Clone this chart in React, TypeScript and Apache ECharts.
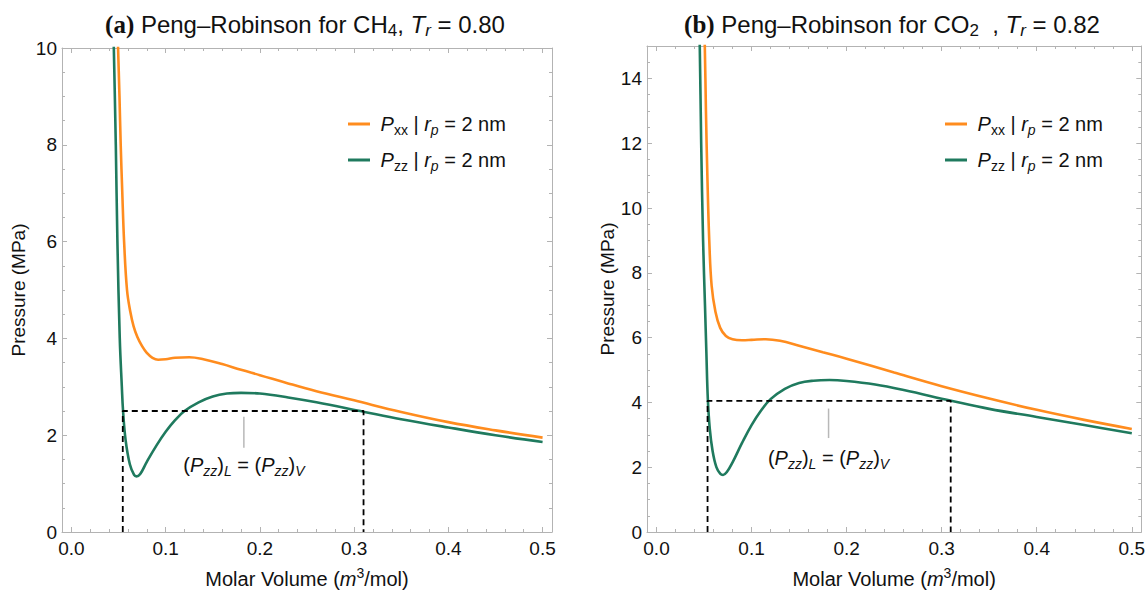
import React, { useEffect, useRef } from 'react';
import * as echarts from 'echarts';

// Axis ticks (molar volume, m^3/mol)
const X_MAJOR = [0, 0.1, 0.2, 0.3, 0.4, 0.5];
const X_MINOR = [0.02, 0.04, 0.06, 0.08, 0.12, 0.14, 0.16, 0.18, 0.22, 0.24, 0.26, 0.28, 0.32, 0.34, 0.36, 0.38, 0.42, 0.44, 0.46, 0.48];

// Panel (a): CH4, Tr = 0.80  — [molar volume, pressure MPa]
const ch4Pxx: [number, number][] = [
  [0.0488, 10.5], [0.0495, 10], [0.051, 9], [0.0523, 8], [0.054, 7], [0.0559, 6], [0.059, 5],
  [0.0625, 4.55], [0.066, 4.25], [0.07, 4.03], [0.075, 3.84], [0.08, 3.7], [0.086, 3.6], [0.092, 3.56],
  [0.1, 3.57], [0.11, 3.6], [0.125, 3.61], [0.14, 3.57], [0.16, 3.47], [0.18, 3.35], [0.2, 3.24],
  [0.23, 3.07], [0.26, 2.91], [0.3, 2.72], [0.35, 2.48], [0.4, 2.27], [0.45, 2.1], [0.5, 1.95],
];
const ch4Pzz: [number, number][] = [
  [0.0445, 10.5], [0.045, 10], [0.0471, 8], [0.0488, 6], [0.0513, 4], [0.0535, 3.0], [0.0548, 2.5],
  [0.0575, 1.9], [0.062, 1.4], [0.0665, 1.18], [0.069, 1.15], [0.073, 1.2], [0.08, 1.45], [0.09, 1.78],
  [0.1, 2.07], [0.11, 2.31], [0.12, 2.5], [0.135, 2.68], [0.15, 2.8], [0.165, 2.86], [0.18, 2.875],
  [0.2, 2.86], [0.23, 2.78], [0.26, 2.68], [0.311, 2.48], [0.35, 2.33], [0.4, 2.16], [0.45, 2.0], [0.5, 1.86],
];
const ch4Equal = 2.5;
const ch4Liquid = 0.0545;
const ch4Vapour = 0.31;
const ch4Pointer: [number, number][] = [[0.183, 2.38], [0.183, 1.74]];
const ch4LabelAt: [number, number] = [0.183, 1.39];

// Panel (b): CO2, Tr = 0.82
const co2Pxx: [number, number][] = [
  [0.05, 15.5], [0.0508, 15], [0.052, 13], [0.0535, 11], [0.0555, 9], [0.058, 7.6], [0.062, 6.8],
  [0.067, 6.3], [0.073, 6.05], [0.08, 5.95], [0.09, 5.92], [0.1, 5.93], [0.115, 5.95], [0.13, 5.9],
  [0.15, 5.75], [0.175, 5.55], [0.2, 5.35], [0.25, 4.92], [0.3, 4.5], [0.35, 4.12], [0.4, 3.77],
  [0.45, 3.46], [0.5, 3.18],
];
const co2Pzz: [number, number][] = [
  [0.0448, 15.5], [0.0455, 15], [0.047, 12], [0.049, 9], [0.051, 7], [0.0525, 5.5], [0.054, 4.1],
  [0.056, 3.2], [0.059, 2.5], [0.063, 2.0], [0.067, 1.8], [0.07, 1.76], [0.074, 1.85], [0.08, 2.15],
  [0.09, 2.75], [0.1, 3.3], [0.11, 3.75], [0.12, 4.1], [0.135, 4.42], [0.15, 4.6], [0.165, 4.67],
  [0.182, 4.69], [0.2, 4.66], [0.23, 4.55], [0.26, 4.38], [0.31, 4.05], [0.35, 3.8], [0.4, 3.55],
  [0.45, 3.3], [0.5, 3.05],
];
const co2Equal = 4.05;
const co2Liquid = 0.0537;
const co2Vapour = 0.3095;
const co2Pointer: [number, number][] = [[0.181, 3.81], [0.181, 2.9]];
const co2LabelAt: [number, number] = [0.181, 2.28];

const FONT = '"Liberation Sans", Arial, Helvetica, sans-serif';
const SERIF = '"Liberation Serif", "Times New Roman", serif';
const INK = '#111111';
const FRAME = '#b3b3b3';
const ORANGE = '#ff8c1e';
const GREEN = '#1f7a5e';

function rich(size: number) {
  const sub = Math.round(size * 0.72);
  const base = { fontFamily: FONT, color: INK, fill: INK, textBorderWidth: 0 };
  return {
    i: { ...base, fontSize: size, fontStyle: 'italic', lineHeight: size + 6 },
    sub: { ...base, fontSize: sub, verticalAlign: 'bottom', lineHeight: sub },
    isub: { ...base, fontSize: sub, fontStyle: 'italic', verticalAlign: 'bottom', lineHeight: sub },
    sup: { ...base, fontSize: sub, verticalAlign: 'top', lineHeight: Math.round(size * 0.11 + 6) },
    b: { ...base, fontFamily: SERIF, fontWeight: 'bold', fontSize: size + 1, lineHeight: size + 6 },
  };
}

function xAxes(g: number) {
  const base = {
    type: 'value', gridIndex: g, min: -0.01, max: 0.51,
    splitLine: { show: false }, minorSplitLine: { show: false },
  };
  const line = { show: true, onZero: false, lineStyle: { color: FRAME, width: 1 } };
  const noLine = { show: false, onZero: false };
  return [
    {
      ...base, position: 'bottom', axisLine: line,
      axisTick: { show: true, inside: true, length: 5, customValues: X_MAJOR, lineStyle: { color: FRAME } },
      axisLabel: {
        show: true, customValues: X_MAJOR, formatter: (v: number) => v.toFixed(1),
        fontSize: 19, fontFamily: FONT, color: INK, margin: 7,
      },
      name: 'Molar Volume ({i|m}{sup|3}/mol)', nameLocation: 'middle', nameGap: 34,
      nameTextStyle: { fontSize: 20, fontFamily: FONT, color: INK, lineHeight: 26, rich: rich(20) },
    },
    {
      ...base, position: 'bottom', axisLine: noLine,
      axisTick: { show: true, inside: true, length: 3, customValues: X_MINOR, lineStyle: { color: FRAME } },
      axisLabel: { show: false },
    },
    {
      ...base, position: 'top', axisLine: line,
      axisTick: { show: true, inside: true, length: 5, customValues: X_MAJOR, lineStyle: { color: FRAME } },
      axisLabel: { show: false },
    },
    {
      ...base, position: 'top', axisLine: noLine,
      axisTick: { show: true, inside: true, length: 3, customValues: X_MINOR, lineStyle: { color: FRAME } },
      axisLabel: { show: false },
    },
  ];
}

function yAxes(g: number, max: number, nameGap: number) {
  const base = {
    type: 'value', gridIndex: g, min: 0, max, interval: 2,
    splitLine: { show: false }, minorSplitLine: { show: false },
    axisLine: { show: true, onZero: false, lineStyle: { color: FRAME, width: 1 } },
    axisTick: { show: true, inside: true, length: 5, lineStyle: { color: FRAME } },
    minorTick: { show: true, splitNumber: 4, length: 3, lineStyle: { color: FRAME } },
  };
  return [
    {
      ...base, position: 'left',
      axisLabel: { show: true, fontSize: 19, fontFamily: FONT, color: INK, margin: 5, showMaxLabel: max === 10 },
      name: 'Pressure (MPa)', nameLocation: 'middle', nameGap, nameRotate: 90,
      nameTextStyle: { fontSize: 19, fontFamily: FONT, color: INK },
    },
    { ...base, position: 'right', axisLabel: { show: false } },
  ];
}

function panelSeries(
  xi: number, yi: number, tag: string,
  pxx: [number, number][], pzz: [number, number][],
  equal: number, liquid: number, vapour: number,
  pointer: [number, number][], labelAt: [number, number],
) {
  const curve = (name: string, data: [number, number][], color: string) => ({
    name, type: 'line', xAxisIndex: xi, yAxisIndex: yi, data, symbol: 'none',
    smooth: 0.4, clip: true,
    lineStyle: { color, width: 2.6 }, itemStyle: { color }, z: 3,
  });
  return [
    curve('Pxx' + tag, pxx, ORANGE),
    curve('Pzz' + tag, pzz, GREEN),
    {
      type: 'line', xAxisIndex: xi, yAxisIndex: yi, symbol: 'none', z: 4,
      data: [[liquid, 0], [liquid, equal], [vapour, equal], [vapour, 0]],
      lineStyle: { color: '#000', width: 1.8, type: [6, 4] },
    },
    {
      type: 'line', xAxisIndex: xi, yAxisIndex: yi, symbol: 'none', z: 2,
      data: pointer, lineStyle: { color: '#b8b8b8', width: 1.5 },
    },
    {
      type: 'scatter', xAxisIndex: xi, yAxisIndex: yi, symbolSize: 0, z: 5,
      data: [labelAt], itemStyle: { color: INK, opacity: 1 },
      label: {
        show: true, position: 'inside', color: INK, opacity: 1, fontSize: 20, fontFamily: FONT, lineHeight: 26,
        textBorderWidth: 0, textBorderColor: 'transparent',
        formatter: '({i|P}{isub|zz}){isub|L} = ({i|P}{isub|zz}){isub|V}', rich: rich(20),
      },
    },
  ];
}

function legend(left: number, tag: string) {
  return {
    orient: 'vertical', left, top: 106, itemGap: 10, itemWidth: 22, itemHeight: 3,
    icon: 'rect', selectedMode: false,
    data: ['Pxx' + tag, 'Pzz' + tag],
    formatter: (name: string) =>
      name.startsWith('Pxx')
        ? ' {i|P}{sub|xx} | {i|r}{isub|p} = 2 nm'
        : ' {i|P}{sub|zz} | {i|r}{isub|p} = 2 nm',
    textStyle: { fontSize: 20, fontFamily: FONT, color: INK, lineHeight: 26, rich: rich(20) },
  };
}

function title(x: number, text: string) {
  return {
    type: 'text', x, y: 24,
    style: {
      text, fontSize: 24, fontFamily: FONT, fill: INK, lineHeight: 30,
      align: 'center', verticalAlign: 'middle', rich: rich(24),
    },
  };
}

function buildOption() {
  return {
    animation: false,
    backgroundColor: '#ffffff',
    grid: [
      { left: 62, top: 48, width: 490, height: 488 },
      { left: 647, top: 46, width: 496, height: 492 },
    ],
    xAxis: [...xAxes(0), ...xAxes(1)],
    yAxis: [...yAxes(0, 10, 34), ...yAxes(1, 15, 30)],
    legend: [legend(343, 'a'), legend(940, 'b')],
    graphic: [
      title(305, '{b|(a)} Peng–Robinson for CH{sub|4}, {i|T}{isub|r} = 0.80'),
      title(892, '{b|(b)} Peng–Robinson for CO{sub|2}  , {i|T}{isub|r} = 0.82'),
    ],
    series: [
      ...panelSeries(0, 0, 'a', ch4Pxx, ch4Pzz, ch4Equal, ch4Liquid, ch4Vapour, ch4Pointer, ch4LabelAt),
      ...panelSeries(4, 2, 'b', co2Pxx, co2Pzz, co2Equal, co2Liquid, co2Vapour, co2Pointer, co2LabelAt),
    ],
  };
}

export default function App() {
  const ref = useRef<HTMLDivElement>(null);
  useEffect(() => {
    if (!ref.current) return;
    const chart = echarts.init(ref.current, null, { renderer: 'svg' });
    chart.setOption(buildOption() as any);
    return () => chart.dispose();
  }, []);
  return (
    <div
      ref={ref}
      style={{ position: 'absolute', left: 0, top: 0, width: 1148, height: 597, background: '#fff' }}
    />
  );
}
